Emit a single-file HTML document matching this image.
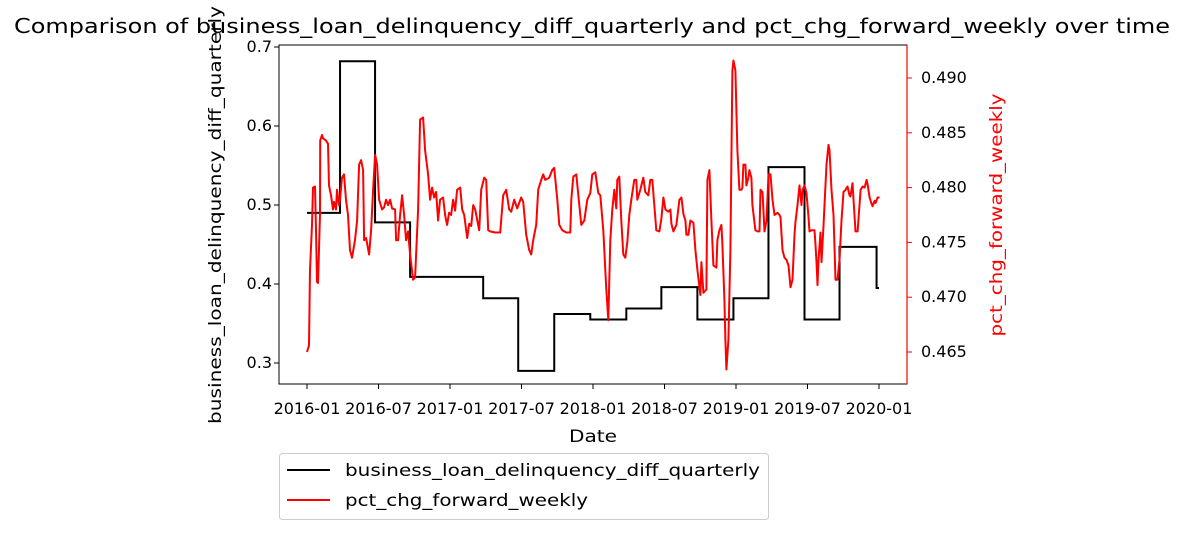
<!DOCTYPE html>
<html><head><meta charset="utf-8"><style>
body{margin:0;background:#fff;}
svg{font-family:"DejaVu Sans","Liberation Sans",sans-serif;}
</style></head><body>
<svg width="1186" height="534" xmlns="http://www.w3.org/2000/svg" id="chart">
<text x="592" y="33" text-anchor="middle" font-size="20" textLength="1156" lengthAdjust="spacingAndGlyphs">Comparison of business_loan_delinquency_diff_quarterly and pct_chg_forward_weekly over time</text>
<g id="plot"></g>
<rect x="279" y="45" width="628" height="339" fill="none" stroke="#000" stroke-width="1"/>
<line x1="907" y1="45" x2="907" y2="384" stroke="red" stroke-width="1.2"/>
<g id="xticks"></g>
<g id="yticks"></g>
<g id="y2ticks"></g>
<text x="593" y="442" text-anchor="middle" font-size="17" textLength="48" lengthAdjust="spacingAndGlyphs">Date</text>
<text transform="translate(221,215) rotate(-90)" text-anchor="middle" font-size="17" textLength="418" lengthAdjust="spacingAndGlyphs">business_loan_delinquency_diff_quarterly</text>
<text transform="translate(1002,215) rotate(-90)" text-anchor="middle" font-size="17" fill="red" textLength="243" lengthAdjust="spacingAndGlyphs">pct_chg_forward_weekly</text>
<g>
<rect x="279.5" y="453.5" width="489" height="66" rx="3" fill="#fff" stroke="#ccc"/>
<line x1="287" y1="470" x2="330" y2="470" stroke="#000" stroke-width="2"/>
<text x="345" y="476" font-size="17" textLength="415" lengthAdjust="spacingAndGlyphs">business_loan_delinquency_diff_quarterly</text>
<line x1="287" y1="500" x2="330" y2="500" stroke="red" stroke-width="2"/>
<text x="345" y="506" font-size="17" textLength="243" lengthAdjust="spacingAndGlyphs">pct_chg_forward_weekly</text>
</g>
</svg>
<script>
// years since 2016-01-01
const xTickVals=[0,0.5,1,1.5,2,2.5,3,3.5,4];
const xTickLabels=["2016-01","2016-07","2017-01","2017-07","2018-01","2018-07","2019-01","2019-07","2020-01"];
const yTicks=[0.3,0.4,0.5,0.6,0.7];
const y2Ticks=[0.465,0.470,0.475,0.480,0.485,0.490];
const loanStepTimes=[0,0.231,0.476,0.721,1.232,1.477,1.729,1.981,2.233,2.478,2.73,2.982,3.227,3.479,3.724,3.983,4.0];
const loanValues=[0.49,0.682,0.478,0.409,0.382,0.29,0.362,0.355,0.369,0.396,0.355,0.382,0.548,0.355,0.447,0.395,0.395];
const pctTimes=[0,.014,.021,.035,.042,.056,.063,.070,.077,.091,.092,.105,.112,.133,.147,.154,.168,.182,.189,.203,.210,.224,.231,.245,.259,.273,.287,.301,.315,.336,.350,.364,.378,.392,.399,.413,.434,.448,.462,.476,.490,.504,.525,.539,.553,.567,.581,.595,.616,.623,.637,.651,.665,.679,.693,.707,.721,.742,.756,.777,.791,.812,.826,.847,.861,.875,.889,.903,.917,.931,.952,.966,.980,.994,1.008,1.022,1.036,1.050,1.071,1.085,1.099,1.120,1.134,1.148,1.162,1.176,1.204,1.218,1.239,1.253,1.267,1.281,1.316,1.351,1.372,1.393,1.414,1.428,1.449,1.470,1.498,1.512,1.533,1.554,1.568,1.582,1.603,1.617,1.638,1.652,1.666,1.694,1.715,1.729,1.750,1.764,1.785,1.813,1.841,1.848,1.862,1.883,1.904,1.918,1.939,1.960,1.981,1.995,2.016,2.037,2.051,2.072,2.093,2.107,2.121,2.135,2.149,2.163,2.170,2.184,2.198,2.212,2.226,2.240,2.254,2.268,2.289,2.303,2.310,2.331,2.352,2.366,2.387,2.401,2.415,2.429,2.443,2.464,2.478,2.492,2.506,2.527,2.541,2.548,2.562,2.583,2.604,2.618,2.632,2.646,2.653,2.667,2.681,2.702,2.716,2.730,2.751,2.758,2.772,2.793,2.800,2.814,2.828,2.842,2.863,2.870,2.884,2.898,2.905,2.919,2.926,2.933,2.947,2.961,2.968,2.975,2.982,2.996,3.010,3.024,3.038,3.045,3.052,3.066,3.073,3.087,3.094,3.108,3.115,3.136,3.150,3.164,3.171,3.185,3.199,3.213,3.227,3.241,3.255,3.269,3.290,3.304,3.311,3.325,3.339,3.353,3.367,3.381,3.395,3.409,3.416,3.430,3.444,3.458,3.465,3.479,3.493,3.507,3.514,3.528,3.549,3.556,3.563,3.570,3.577,3.591,3.598,3.612,3.619,3.633,3.647,3.654,3.668,3.682,3.696,3.710,3.724,3.738,3.752,3.766,3.780,3.794,3.801,3.815,3.836,3.850,3.871,3.885,3.899,3.913,3.920,3.934,3.948,3.955,3.969,3.976,3.990,4.004];
const pctValues=[.4650,.4656,.4725,.4766,.4800,.4801,.4761,.4714,.4713,.4775,.4843,.4848,.4845,.4843,.4840,.4802,.4793,.4780,.4787,.4780,.4798,.4784,.4789,.4809,.4812,.4789,.4775,.4743,.4736,.4752,.4770,.4821,.4825,.4816,.4752,.4754,.4739,.4761,.4798,.4830,.4821,.4789,.4780,.4782,.4789,.4784,.4789,.4781,.4780,.4752,.4752,.4775,.4793,.4775,.4752,.4760,.4739,.4716,.4718,.4780,.4862,.4864,.4834,.4812,.4789,.4800,.4791,.4796,.4770,.4789,.4791,.4775,.4766,.4777,.4775,.4789,.4779,.4798,.4800,.4780,.4775,.4754,.4767,.4765,.4784,.4780,.4761,.4798,.4809,.4807,.4761,.4760,.4759,.4759,.4793,.4798,.4780,.4778,.4789,.4781,.4791,.4787,.4757,.4743,.4739,.4752,.4766,.4798,.4807,.4812,.4807,.4809,.4816,.4818,.4789,.4766,.4761,.4759,.4759,.4789,.4810,.4812,.4784,.4766,.4770,.4789,.4795,.4812,.4814,.4795,.4793,.4761,.4707,.4679,.4752,.4780,.4798,.4781,.4807,.4810,.4770,.4739,.4736,.4750,.4775,.4789,.4807,.4807,.4789,.4798,.4809,.4796,.4793,.4807,.4807,.4784,.4761,.4760,.4772,.4791,.4780,.4778,.4780,.4767,.4760,.4766,.4789,.4791,.4776,.4770,.4757,.4757,.4770,.4768,.4743,.4725,.4702,.4732,.4704,.4707,.4807,.4816,.4770,.4729,.4727,.4752,.4761,.4766,.4748,.4698,.4661,.4634,.4661,.4743,.4825,.4907,.4916,.4907,.4834,.4798,.4798,.4800,.4821,.4821,.4802,.4809,.4816,.4809,.4784,.4761,.4760,.4760,.4798,.4796,.4760,.4770,.4812,.4812,.4789,.4775,.4777,.4775,.4773,.4743,.4736,.4734,.4729,.4709,.4716,.4757,.4769,.4784,.4802,.4784,.4798,.4802,.4795,.4773,.4760,.4761,.4761,.4748,.4732,.4711,.4734,.4759,.4732,.4765,.4784,.4821,.4839,.4834,.4798,.4775,.4716,.4716,.4734,.4770,.4796,.4798,.4801,.4793,.4792,.4804,.4760,.4760,.4798,.4801,.4800,.4807,.4803,.4791,.4785,.4783,.4788,.4786,.4791,.4791];

const NS="http://www.w3.org/2000/svg";
const xS=t=>307+t*143;
const yL=v=>363-(v-0.3)*790;
const yR=v=>352-(v-0.465)*10960;
function mk(tag,attrs,parent){const e=document.createElementNS(NS,tag);for(const k in attrs)e.setAttribute(k,attrs[k]);parent.appendChild(e);return e;}
const plot=document.getElementById('plot');
let d="";
for(let i=0;i<loanStepTimes.length;i++){
  const x=xS(loanStepTimes[i]);
  if(i===0)d+=`M${x},${yL(loanValues[i])}`;
  else d+=`L${x},${yL(loanValues[i-1])}L${x},${yL(loanValues[i])}`;
}
const p1=mk('path',{d:d,fill:'none',stroke:'#000','stroke-width':2},plot);


let d2=pctTimes.map((t,i)=>(i?'L':'M')+xS(t).toFixed(1)+','+yR(pctValues[i]).toFixed(1)).join('');
const p2=mk('path',{d:d2,fill:'none',stroke:'red','stroke-width':2,'stroke-linejoin':'round'},plot);


const xg=document.getElementById('xticks');
xTickVals.forEach((t,i)=>{
  const x=xS(t);
  const l=mk('line',{x1:x,x2:x,y1:384,y2:389,stroke:'#000'},xg);
  
  
  const tx=mk('text',{x:x,y:414,'text-anchor':'middle','font-size':16},xg);tx.textContent=xTickLabels[i];
  
  
});
const yg=document.getElementById('yticks');
yTicks.forEach(v=>{
  const y=yL(v);
  const l=mk('line',{x1:274,x2:279,y1:y,y2:y,stroke:'#000'},yg);
  
  
  const tx=mk('text',{x:272,y:y+5,'text-anchor':'end','font-size':16},yg);tx.textContent=v.toFixed(1);
  
  
});
const y2g=document.getElementById('y2ticks');
y2Ticks.forEach(v=>{
  const y=yR(v);
  const l=mk('line',{x1:907,x2:912,y1:y,y2:y,stroke:'red'},y2g);
  
  
  const tx=mk('text',{x:921,y:y+5,'font-size':16},y2g);tx.textContent=v.toFixed(3);
  
  
});
</script>
</body></html>
